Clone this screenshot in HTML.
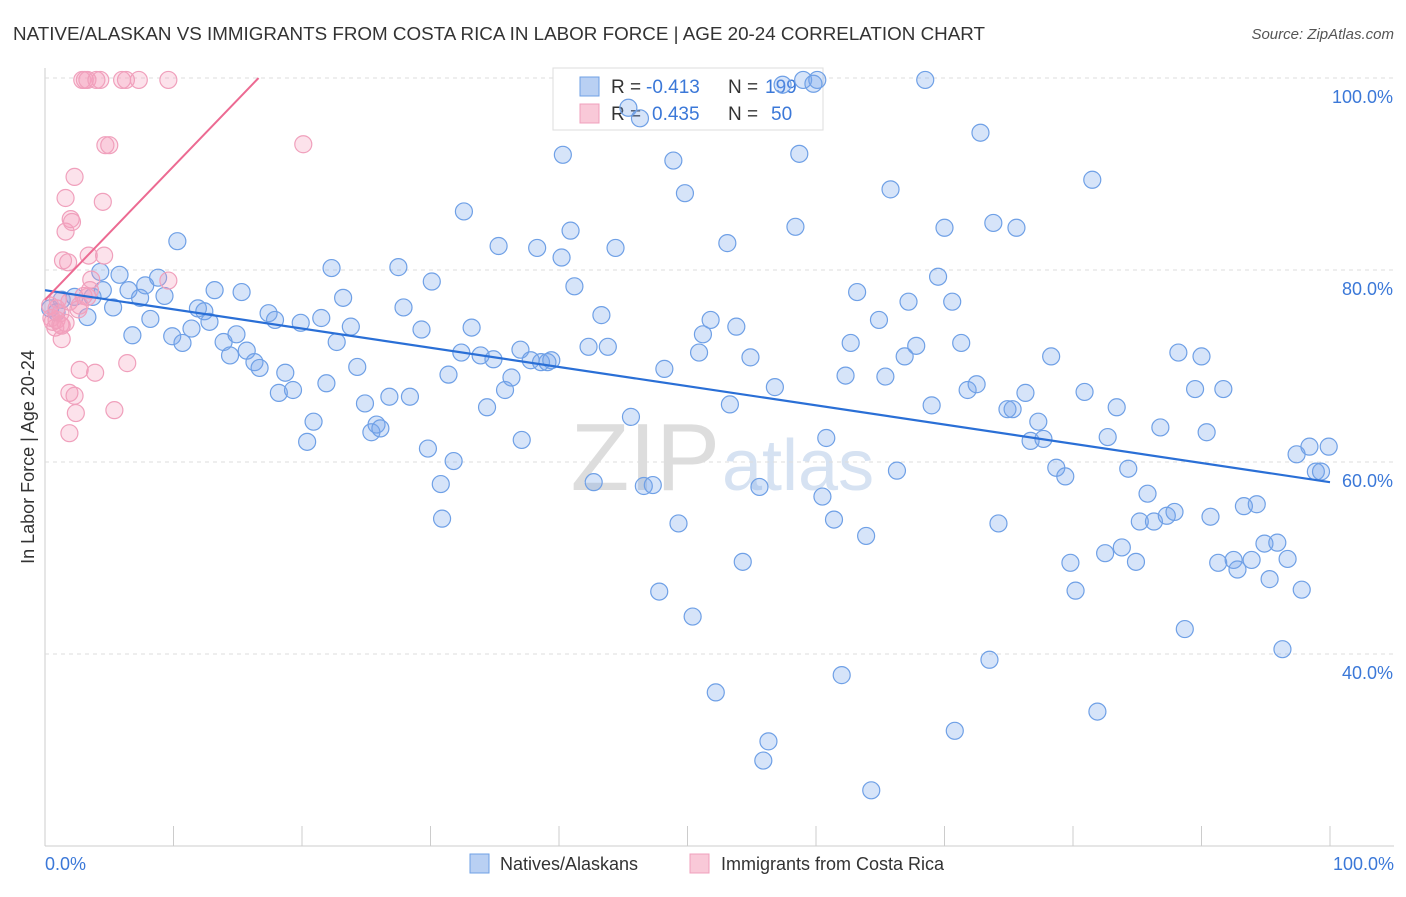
<!DOCTYPE html>
<html><head><meta charset="utf-8"><style>
body{margin:0;background:#fff;font-family:"Liberation Sans",sans-serif;}
svg text{font-family:"Liberation Sans",sans-serif;}
</style></head><body>
<svg id="chart" width="1406" height="892">
<text x="13" y="40" font-size="18" fill="#333" textLength="972" lengthAdjust="spacingAndGlyphs">NATIVE/ALASKAN VS IMMIGRANTS FROM COSTA RICA IN LABOR FORCE | AGE 20-24 CORRELATION CHART</text>
<text x="1394" y="39" font-size="15" fill="#555" font-style="italic" text-anchor="end">Source: ZipAtlas.com</text>
<text x="720" y="490" font-size="96" fill="#ddd" text-anchor="end" font-family="Liberation Serif">ZIP</text>
<text x="722" y="490" font-size="72" fill="#d6e2f2">atlas</text>
<g id="grid"></g>
<g>
<rect x="553" y="68" width="270" height="62" fill="#fff" stroke="#ddd"/>
<rect x="580" y="77" width="19" height="19" fill="#b9d0f3" stroke="#6fa0e6"/>
<rect x="580" y="104" width="19" height="19" fill="#f9c9d8" stroke="#f0a0bc"/>
<text x="611" y="93" font-size="19" fill="#333">R =</text>
<text x="646" y="93" font-size="19" fill="#3b78d8">-0.413</text>
<text x="728" y="93" font-size="19" fill="#333">N =</text>
<text x="765" y="93" font-size="19" fill="#3b78d8">199</text>
<text x="611" y="120" font-size="19" fill="#333">R =</text>
<text x="652" y="120" font-size="19" fill="#3b78d8">0.435</text>
<text x="728" y="120" font-size="19" fill="#333">N =</text>
<text x="771" y="120" font-size="19" fill="#3b78d8">50</text>
</g>
<g id="marks"></g>
<text transform="translate(34,457) rotate(-90)" font-size="18" fill="#333" text-anchor="middle">In Labor Force | Age 20-24</text>
<text x="45" y="870" font-size="18" fill="#3b78d8">0.0%</text>
<text x="1394" y="870" font-size="18" fill="#3b78d8" text-anchor="end">100.0%</text>
<g>
<rect x="470" y="854" width="19" height="19" fill="#b9d0f3" stroke="#6fa0e6"/>
<text x="500" y="870" font-size="18" fill="#333">Natives/Alaskans</text>
<rect x="690" y="854" width="19" height="19" fill="#f9c9d8" stroke="#f0a0bc"/>
<text x="721" y="870" font-size="18" fill="#333">Immigrants from Costa Rica</text>
</g>
</svg>
<script>
const blueX=[0.4,0.9,1.3,2.3,3.3,3.7,4.3,4.5,5.3,5.8,6.5,6.8,7.4,7.8,8.2,8.8,9.3,9.9,10.3,10.7,11.4,11.9,12.4,12.8,13.2,13.9,14.4,14.9,15.3,15.7,16.3,16.7,17.4,17.9,18.2,18.7,19.3,19.9,20.4,20.9,21.5,21.9,22.3,22.7,23.2,23.8,24.3,24.9,25.4,25.8,26.1,26.8,27.5,27.9,28.4,29.3,29.8,30.1,30.8,30.9,31.4,31.8,32.4,32.6,33.2,33.9,34.4,34.9,35.3,35.8,36.3,37.0,37.1,37.8,38.3,38.6,39.1,39.4,40.2,40.3,40.9,41.2,42.3,42.7,43.3,43.8,44.4,45.6,46.6,47.3,47.8,48.2,48.9,49.3,49.8,50.4,50.9,51.2,51.8,52.2,53.1,53.3,53.8,54.3,54.9,55.6,55.9,56.3,56.8,58.4,58.7,60.5,60.8,61.4,62.0,62.3,62.7,63.2,63.9,64.3,64.9,65.4,65.8,66.3,66.9,67.2,67.8,68.5,69.0,69.5,70.0,70.6,70.8,71.3,71.8,72.5,72.8,73.5,73.8,74.2,74.9,75.3,75.6,76.3,76.7,77.3,77.7,78.3,78.7,79.4,79.8,80.2,80.9,81.5,81.9,82.5,82.7,83.4,83.8,84.3,84.9,85.2,85.8,86.3,86.8,87.3,87.9,88.2,88.7,89.5,90.0,90.4,90.7,91.3,91.7,92.5,92.8,93.3,93.9,94.3,94.9,95.3,95.9,96.3,96.7,97.4,97.8,98.4,98.9,99.3,99.9,59.0,60.1,45.4,46.3,59.8,57.4];
const blueY=[76.0,75.6,76.9,77.2,75.1,77.2,79.8,77.9,76.1,79.5,77.9,73.2,77.1,78.4,74.9,79.2,77.3,73.1,83.0,72.4,73.9,76.0,75.7,74.6,77.9,72.5,71.1,73.3,77.7,71.6,70.4,69.8,75.5,74.8,67.2,69.3,67.5,74.5,62.1,64.2,75.0,68.2,80.2,72.5,77.1,74.1,69.9,66.1,63.1,63.9,63.5,66.8,80.3,76.1,66.8,73.8,61.4,78.8,57.7,54.1,69.1,60.1,71.4,86.1,74.0,71.1,65.7,70.7,82.5,67.5,68.8,71.7,62.3,70.6,82.3,70.4,70.4,70.6,81.3,92.0,84.1,78.3,72.0,57.9,75.3,72.0,82.3,64.7,57.5,57.6,46.5,69.7,91.4,53.6,88.0,43.9,71.4,73.3,74.8,36.0,82.8,66.0,74.1,49.6,70.9,57.4,28.9,30.9,67.8,84.5,92.1,56.4,62.5,54.0,37.8,69.0,72.4,77.7,52.3,25.8,74.8,68.9,88.4,59.1,71.0,76.7,72.1,99.8,65.9,79.3,84.4,76.7,32.0,72.4,67.5,68.1,94.3,39.4,84.9,53.6,65.5,65.5,84.4,67.2,62.2,64.2,62.4,71.0,59.4,58.5,49.5,46.6,67.3,89.4,34.0,50.5,62.6,65.7,51.1,59.3,49.6,53.8,56.7,53.8,63.6,54.4,54.8,71.4,42.6,67.6,71.0,63.1,54.3,49.5,67.6,49.8,48.8,55.4,49.8,55.6,51.5,47.8,51.6,40.5,49.9,60.8,46.7,61.6,59.0,59.0,61.6,99.8,99.8,96.9,95.8,99.4,99.3];
const pinkX=[0.4,0.5,0.8,0.6,0.9,1.0,1.2,1.3,1.4,1.6,1.6,1.8,1.9,1.9,1.9,2.0,2.1,2.3,2.3,2.4,2.7,2.9,3.1,3.3,3.3,3.4,3.6,3.9,4.0,4.3,4.5,4.6,4.7,5.0,5.4,6.0,6.3,6.4,7.3,9.6,9.6,20.1,2.6,3.0,1.2,0.9,1.3,3.5,2.7,1.6];
const pinkY=[76.3,75.0,74.0,74.6,74.8,76.9,74.3,72.8,81.0,87.5,84.0,80.8,76.7,67.2,63.0,85.3,85.0,66.9,89.7,65.1,69.6,99.8,99.8,77.2,99.8,81.5,79.0,69.3,99.8,99.8,87.1,81.5,93.0,93.0,65.4,99.8,99.8,70.3,99.8,99.8,78.9,93.1,75.9,77.3,75.5,76.0,74.2,77.9,76.3,74.5];
const blueTrend=[77.9,57.9];
const pinkTrend=[76.9,1.39];
const yTicks=[100,80,60,40];
const yTickLabels=["100.0%","80.0%","60.0%","40.0%"];
const xTicks=[0,10,20,30,40,50,60,70,80,90,100];

const NS="http://www.w3.org/2000/svg";
const X0=45,X1=1330,Y100=78,YPER=9.6;
function sx(v){return X0+(X1-X0)*v/100;}
function sy(v){return Y100+(100-v)*YPER;}
function mk(tag,attrs,parent){const e=document.createElementNS(NS,tag);for(const k in attrs)e.setAttribute(k,attrs[k]);parent.appendChild(e);return e;}
const grid=document.getElementById('grid'),marks=document.getElementById('marks');
let el=mk('line',{x1:45,y1:68,x2:45,y2:846,stroke:'#ccc'},grid);


el=mk('line',{x1:45,y1:846,x2:1394,y2:846,stroke:'#ccc'},grid);


yTicks.forEach((t,i)=>{
  let g=mk('line',{x1:45,y1:sy(t),x2:1394,y2:sy(t),stroke:'#ddd','stroke-dasharray':'4,4'},grid);
  
  
  let tx=mk('text',{x:1393,y:sy(t)+25,'font-size':18,fill:'#3b78d8','text-anchor':'end'},grid);
  tx.textContent=yTickLabels[i];
  
  
});
xTicks.forEach(t=>{
  let l=mk('line',{x1:sx(t),y1:826,x2:sx(t),y2:846,stroke:'#ccc'},grid);
  
  
});
blueX.forEach((x,i)=>{
  let c=mk('circle',{cx:sx(x),cy:sy(blueY[i]),r:8.5,fill:'rgba(120,165,235,0.3)',stroke:'#6fa0e6','stroke-width':1.2},marks);
  
  
});
pinkX.forEach((x,i)=>{
  let c=mk('circle',{cx:sx(x),cy:sy(pinkY[i]),r:8.5,fill:'rgba(245,160,190,0.3)',stroke:'#f0a0bc','stroke-width':1.2},marks);
  
  
});
let bl=mk('line',{x1:sx(0),y1:sy(blueTrend[0]),x2:sx(100),y2:sy(blueTrend[1]),stroke:'#2a6fd6','stroke-width':2.2},marks);


const pEnd=(100-pinkTrend[0])/pinkTrend[1];
let pl=mk('line',{x1:sx(0),y1:sy(pinkTrend[0]),x2:sx(pEnd),y2:sy(100),stroke:'#ec6a92','stroke-width':2},marks);


</script>
</body></html>
